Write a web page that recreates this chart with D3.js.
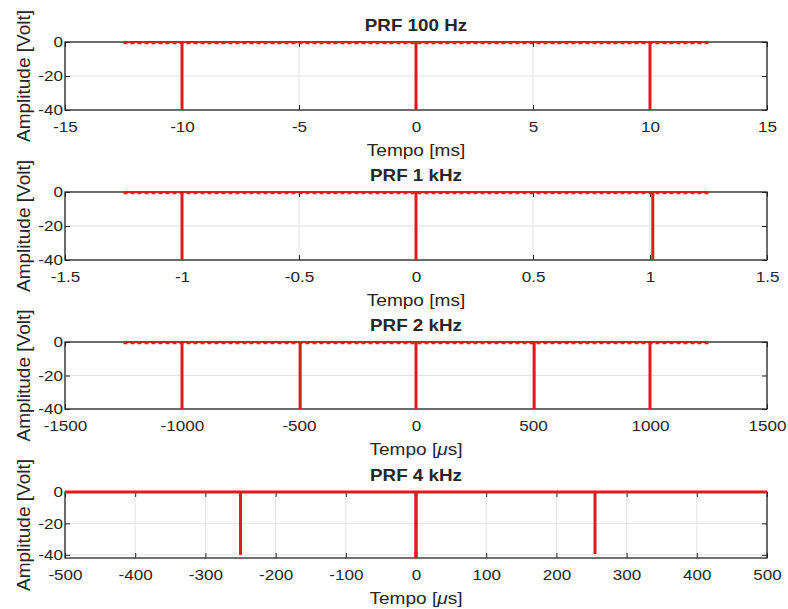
<!DOCTYPE html>
<html>
<head>
<meta charset="utf-8">
<script src="https://cdn.jsdelivr.net/npm/d3@7"></script>
<style>
  body { margin: 0; background: #fff; }
  svg text { font-family: "Liberation Sans", Arial, Helvetica, sans-serif; fill: #262626; }
</style>
</head>
<body>
<svg id="chart" width="788" height="609"></svg>
<script>
const titles = ["PRF 100 Hz", "PRF 1 kHz", "PRF 2 kHz", "PRF 4 kHz"];
const xUnits = ["ms", "ms", "\u03bcs", "\u03bcs"];
const xDomains = [[-15, 15], [-1.5, 1.5], [-1500, 1500], [-500, 500]];
const xTicks = [
    [-15, -10, -5, 0, 5, 10, 15],
    [-1.5, -1, -0.5, 0, 0.5, 1, 1.5],
    [-1500, -1000, -500, 0, 500, 1000, 1500],
    [-500, -400, -300, -200, -100, 0, 100, 200, 300, 400, 500]
];
const yDomains = [[-40, 0], [-40, 0], [-40, 0], [-42, 0]];
const yTicks = [0, -20, -40];
// pulse instants and their depth, per panel
const pulseTimes = [
    [-10, 0, 10],
    [-1, 0, 1.012],
    [-1000, -495, 0, 505, 1000],
    [-250, 0, 255]
];
const pulseDepths = [
    [-40, -40, -40],
    [-40, -40, -40],
    [-40, -40, -40, -40, -40],
    [-40, -42, -39.5]
];
// time span where the signal is defined
const signalSpan = [[-12.5, 12.5], [-1.25, 1.25], [-1250, 1250], [-500, 500]];

const left = 65, right = 767;
const tops = [42, 192, 342, 492];
const bottoms = [110, 260, 409, 558];
const red = "#e31a1c";

const svg = d3.select("#chart");
const fmt = d => String(d);  // matlab style hyphen minus

// the reference text is a bit wider than tall: widen glyphs
const widen = (sel, k) => sel.each(function () {
    const w = this.getComputedTextLength();
    d3.select(this).attr("textLength", w * k).attr("lengthAdjust", "spacingAndGlyphs");
});

titles.forEach((title, i) => {
    const x = d3.scaleLinear().domain(xDomains[i]).range([left, right]);
    const y = d3.scaleLinear().domain(yDomains[i]).range([bottoms[i], tops[i]]);
    const g = svg.append("g");

    // grid
    g.selectAll(".gx")
        .data(xTicks[i])
        .enter()
        .append("line")
        .attr("x1", d => x(d)).attr("x2", d => x(d))
        .attr("y1", tops[i]).attr("y2", bottoms[i])
        .attr("stroke", "#e3e3e3");
    g.selectAll(".gy")
        .data(yTicks)
        .enter()
        .append("line")
        .attr("x1", left).attr("x2", right)
        .attr("y1", d => y(d)).attr("y2", d => y(d))
        .attr("stroke", "#e3e3e3");

    // axes
    g.append("g")
        .attr("transform", `translate(0,${bottoms[i]})`)
        .call(d3.axisBottom(x).tickValues(xTicks[i]).tickFormat(fmt).tickSize(-5).tickSizeOuter(0).tickPadding(11));
    g.append("g")
        .attr("transform", `translate(0,${tops[i]})`)
        .call(d3.axisTop(x).tickValues(xTicks[i]).tickFormat("").tickSize(-5).tickSizeOuter(0));
    g.append("g")
        .attr("transform", `translate(${left},0)`)
        .call(d3.axisLeft(y).tickValues(yTicks).tickFormat(fmt).tickSize(-5).tickSizeOuter(0).tickPadding(2));
    g.append("g")
        .attr("transform", `translate(${right},0)`)
        .call(d3.axisRight(y).tickValues(yTicks).tickFormat("").tickSize(-5).tickSizeOuter(0));

    g.selectAll(".domain").remove();
    g.selectAll(".tick line").attr("stroke", "#262626");
    g.selectAll(".tick text")
        .style("font-size", "15px")
        .attr("fill", "#262626")
        .call(widen, 1.14);

    g.append("rect")
        .attr("x", left).attr("y", tops[i])
        .attr("width", right - left).attr("height", bottoms[i] - tops[i])
        .attr("fill", "none")
        .attr("stroke", "#262626")
        .attr("stroke-width", 1.3);

    // signal baseline
    const span = signalSpan[i];
    g.append("line")
        .attr("x1", x(span[0])).attr("x2", x(span[1]))
        .attr("y1", y(0)).attr("y2", y(0))
        .attr("stroke", red)
        .attr("stroke-width", i === 3 ? 3 : 1.8);
    if (i < 3) {
        g.append("line")
            .attr("x1", x(span[0])).attr("x2", x(span[1]))
            .attr("y1", y(0) + 1).attr("y2", y(0) + 1)
            .attr("stroke", red)
            .attr("stroke-width", 2.6)
            .attr("stroke-dasharray", "4,3");
    }

    // pulses
    g.selectAll(".pulse")
        .data(pulseTimes[i].map((t, k) => [t, pulseDepths[i][k]]))
        .enter()
        .append("line")
        .attr("x1", d => x(d[0])).attr("x2", d => x(d[0]))
        .attr("y1", y(0)).attr("y2", d => y(d[1]))
        .attr("stroke", red)
        .attr("stroke-width", (d, k) => (i === 3 && d[0] === 0) ? 3.5 : 3);

    // labels
    g.append("text")
        .attr("x", (left + right) / 2)
        .attr("y", tops[i] - 11)
        .attr("text-anchor", "middle")
        .style("font-size", "16.5px")
        .style("font-weight", "bold")
        .attr("fill", "#000")
        .text(title)
        .call(widen, 1.14);

    const xl = g.append("text")
        .attr("x", (left + right) / 2)
        .attr("y", bottoms[i] + 46)
        .attr("text-anchor", "middle")
        .style("font-size", "17px");
    if (xUnits[i] === "ms") {
        xl.text("Tempo [ms]");
    } else {
        xl.append("tspan").text("Tempo [");
        xl.append("tspan").style("font-style", "italic").text("\u03bc");
        xl.append("tspan").text("s]");
    }
    xl.call(widen, 1.12);

    g.append("text")
        .attr("transform", `translate(30,${(tops[i] + bottoms[i]) / 2}) rotate(-90)`)
        .attr("text-anchor", "middle")
        .style("font-size", "19px")
        .text("Amplitude [Volt]");
});
</script>
</body>
</html>
